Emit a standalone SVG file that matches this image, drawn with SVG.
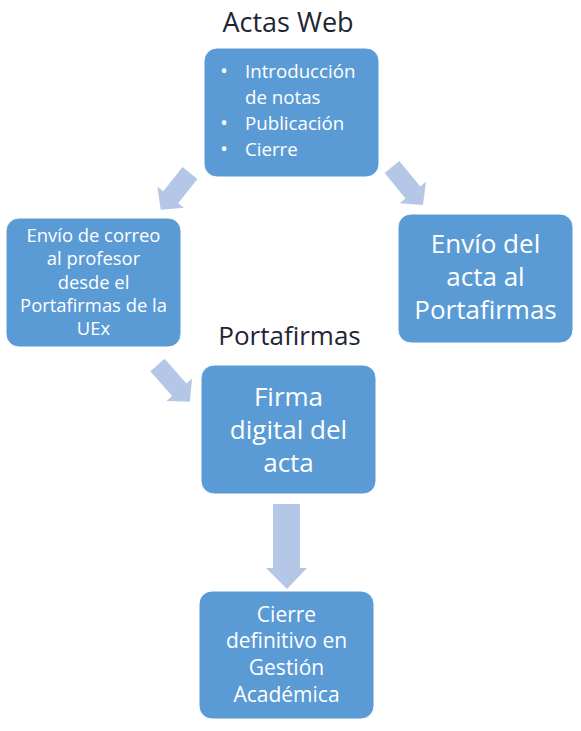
<svg xmlns="http://www.w3.org/2000/svg" width="581" height="731" viewBox="0 0 581 731">
<defs>
<style>
.box{fill:#5B9BD5;stroke:#ffffff;stroke-width:1}
.arr{fill:#B4C7E7}
.t{font-family:"Open Sans","Liberation Sans",sans-serif;fill:#ffffff;text-anchor:middle}
.s{text-anchor:start}
.b{text-anchor:middle;font-size:20px}
.title{font-family:"Open Sans","Liberation Sans",sans-serif;fill:#1E2633;text-anchor:middle}
</style>
</defs>
<rect width="581" height="731" fill="#ffffff"/>
<g id="connectors">
<path class="arr" transform="translate(190,173) rotate(128.5)" d="M0,-9.5 H31 V-17 L47,0 L31,17 V9.5 H0 Z"/>
<path class="arr" transform="translate(392,167) rotate(50.8)" d="M0,-9.5 H33 V-17 L49,0 L33,17 V9.5 H0 Z"/>
<path class="arr" transform="translate(157.5,365) rotate(48.7)" d="M0,-9.5 H33 V-17 L49,0 L33,17 V9.5 H0 Z"/>
<path class="arr" d="M273,504 H300 V568 H307 L287,589 L266,568 H273 Z"/>
</g>
<g id="title-actas">
<text class="title" x="288" y="32" font-size="27">Actas Web</text>
</g>
<g id="title-portafirmas">
<text class="title" x="289.5" y="345" font-size="26">Portafirmas</text>
</g>
<g id="node-actas">
<rect class="box" x="204" y="48" width="175" height="129" rx="13"/>
<g class="t" font-size="18.7">
<text class="b" x="224" y="78">•</text>
<text class="s" x="245" y="78">Introducción</text>
<text class="s" x="245" y="104">de notas</text>
<text class="b" x="224" y="130">•</text>
<text class="s" x="245" y="130">Publicación</text>
<text class="b" x="224" y="156">•</text>
<text class="s" x="245" y="156">Cierre</text>
</g>
</g>
<g id="node-correo">
<rect class="box" x="6" y="218" width="175" height="129" rx="13"/>
<g class="t" font-size="18.4">
<text x="93.5" y="242">Envío de correo</text>
<text x="93.5" y="265">al profesor</text>
<text x="93.5" y="288.5">desde el</text>
<text x="93.5" y="312">Portafirmas de la</text>
<text x="93.5" y="335">UEx</text>
</g>
</g>
<g id="node-envio">
<rect class="box" x="398" y="214" width="175" height="129" rx="13"/>
<g class="t" font-size="26">
<text x="485.5" y="252.5">Envío del</text>
<text x="485.5" y="285.5">acta al</text>
<text x="485.5" y="318.5">Portafirmas</text>
</g>
</g>
<g id="node-firma">
<rect class="box" x="201" y="365" width="175" height="129" rx="13"/>
<g class="t" font-size="26">
<text x="288.5" y="405.5">Firma</text>
<text x="288.5" y="438.5">digital del</text>
<text x="288.5" y="471.5">acta</text>
</g>
</g>
<g id="node-cierre">
<rect class="box" x="199" y="591" width="175" height="128" rx="13"/>
<g class="t" font-size="21">
<text x="286.5" y="621.5">Cierre</text>
<text x="286.5" y="648">definitivo en</text>
<text x="286.5" y="675">Gestión</text>
<text x="286.5" y="701.5">Académica</text>
</g>
</g>
</svg>
